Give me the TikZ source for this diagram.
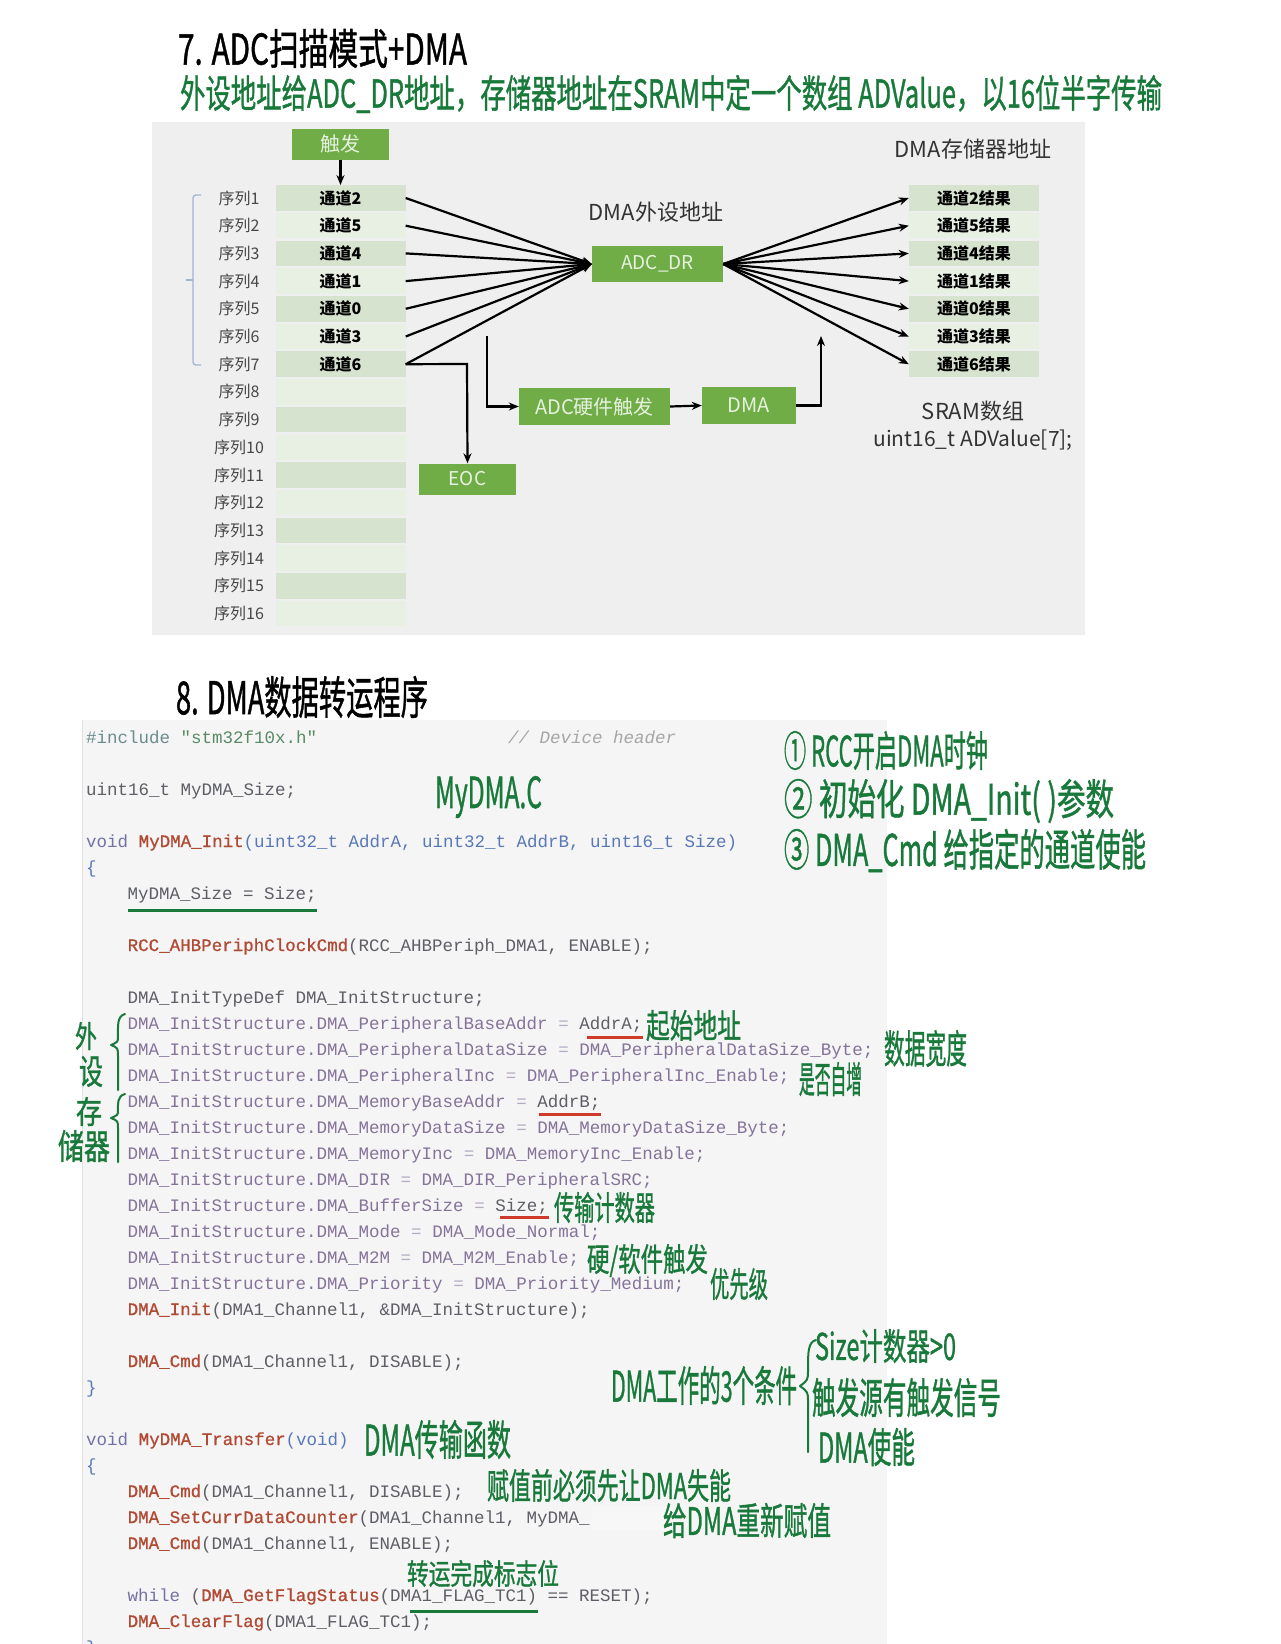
\documentclass[tikz,border=0pt]{standalone}
\usepackage{fontspec}
\usepackage{graphicx}
\setmainfont{Noto Sans CJK SC}
\newfontfamily\cjk{Noto Sans CJK SC}
\newfontfamily\hand[FakeBold=1.2]{Noto Sans CJK SC}
\newfontfamily\codefont{Liberation Mono}
\newfontfamily\codefontb[FakeBold=0.9]{Liberation Mono}
\usetikzlibrary{arrows.meta}
\definecolor{bggray}{HTML}{EFEFEF}
\definecolor{gbox}{HTML}{70AD47}
\definecolor{gtext}{HTML}{E6F2DF}
\definecolor{rowdark}{HTML}{D6E3CF}
\definecolor{rowlight}{HTML}{E8F0E4}
\definecolor{hgreen}{HTML}{18793A}
\definecolor{bracecol}{HTML}{A3B4CF}
\definecolor{codebg}{HTML}{F5F5F5}
\definecolor{cfn}{HTML}{B04A34}
\definecolor{cplain}{HTML}{5E5E66}
\definecolor{cmem}{HTML}{85739A}
\definecolor{ckw}{HTML}{7272A8}
\definecolor{cpar}{HTML}{5878B8}
\definecolor{cstr}{HTML}{5A8A64}
\definecolor{cinc}{HTML}{6B8C8C}
\definecolor{ccom}{HTML}{A6A6A6}
\definecolor{redline}{HTML}{D03A2A}
\definecolor{dtext}{HTML}{333333}
\newcommand{\hw}[3]{\resizebox*{#1pt}{#2pt}{#3}}
\newcommand{\fn}[1]{\textcolor{cfn}{\codefontb #1}}
\begin{document}
\begin{tikzpicture}[x=1pt,y=-1pt,
  gboxst/.style={fill=gbox, draw=none, text=gtext, inner sep=0, font=\cjk\fontsize{20}{20}\selectfont},
  rowbox/.style={draw=none, minimum width=130pt, minimum height=25.5pt, inner sep=0, text=black, font=\cjk\bfseries\fontsize{16}{16}\selectfont},
  seqlab/.style={inner sep=0, text=dtext!90, font=\cjk\fontsize{16}{16}\selectfont},
  dlab/.style={inner sep=0, text=dtext, font=\cjk\fontsize{22}{22}\selectfont},
  conn/.style={line width=2.2pt, black},
  tipst/.style={-{Stealth[length=10pt,width=8pt]}},
  code/.style={anchor=base west, inner sep=0, text=cplain, font=\codefont\fontsize{17.5}{20}\selectfont},
  hwn/.style={anchor=north west, inner sep=0, outer sep=0, font=\hand, text=hgreen},
  hbrace/.style={draw=hgreen, line width=2pt, line cap=round, line join=round},
  ulst/.style={line width=3pt},
]
\useasboundingbox (0,0) rectangle (1280,1644);
\fill[white] (0,0) rectangle (1280,1644);

% ---------- titles ----------
\node[hwn, text=black] (t7) at (178,29) {\hw{289}{39}{7. ADC扫描模式+DMA}};
\node[hwn] (t7b) at (180,75) {\hw{982}{38}{外设地址给ADC\_DR地址，存储器地址在SRAM中定一个数组 ADValue，以16位半字传输}};

% ---------- diagram ----------
\fill[bggray] (152,122) rectangle (1085,635);

\node[gboxst, minimum width=97pt, minimum height=31pt] (trig) at (340.5,144) {触发};

\foreach \i/\c in {1/2,2/5,3/4,4/1,5/0,6/3,7/6}{
  \pgfmathsetmacro\yy{198+(\i-1)*27.7}
  \pgfmathtruncatemacro\odd{mod(\i,2)}
  \ifnum\odd=1 \def\rc{rowdark}\else\def\rc{rowlight}\fi
  \node[rowbox, fill=\rc] (r\i) at (340.5,\yy) {通道\c};
  \node[seqlab] (s\i) at (239,\yy) {序列\i};
  \node[rowbox, fill=\rc] (q\i) at (974,\yy) {通道\c 结果};
}
\foreach \i in {8,...,16}{
  \pgfmathsetmacro\yy{198+(\i-1)*27.7}
  \pgfmathtruncatemacro\odd{mod(\i,2)}
  \ifnum\odd=1 \def\rc{rowdark}\else\def\rc{rowlight}\fi
  \node[rowbox, fill=\rc] (r\i) at (340.5,\yy) {};
  \node[seqlab] (s\i) at (239,\yy) {序列\i};
}

% left brace
\draw[bracecol, line width=1.3pt, rounded corners=3pt] (201,195) -- (193,195) -- (193,365) -- (201,365);
\draw[bracecol, line width=1.3pt] (193,280) -- (186,280);

\node[gboxst, minimum width=131pt, minimum height=36pt, font=\cjk\fontsize{19}{19}\selectfont] (adc) at (657.5,264) {ADC\_DR};
\node[dlab] (perlab) at (656,212) {DMA外设地址};
\node[dlab] (memlab) at (973,149) {DMA存储器地址};
\node[dlab] (sram) at (973,411) {SRAM数组};
\node[dlab, font=\cjk\fontsize{21}{21}\selectfont] (adv) at (973,440) {uint16\_t ADValue[7];};

\node[gboxst, minimum width=151pt, minimum height=37pt] (hw) at (594.5,406.5) {ADC硬件触发};
\node[gboxst, minimum width=94pt, minimum height=37pt] (dma) at (749,405.5) {DMA};
\node[gboxst, minimum width=97pt, minimum height=31pt, font=\cjk\fontsize{19}{19}\selectfont] (eoc) at (467.5,479) {EOC};

\draw[conn, tipst] (trig.south) -- (r1.north);
\foreach \i in {1,...,7}{
  \draw[conn, tipst] (r\i.east) -- (adc.west);
  \draw[conn, tipst] (adc.east) -- (q\i.west);
}
\coordinate (eocturn) at (467,364);
\draw[conn, tipst] (r7.east) -- (eocturn) -- (eoc.north);
\coordinate (freeA) at (487,336);
\coordinate (turnA) at (487,406.5);
\draw[conn, tipst] (freeA) -- (turnA) -- (hw.west);
\draw[conn, tipst] (hw.east) -- (dma.west);
\coordinate (turnB) at (821,405.5);
\coordinate (freeB) at (821,336);
\draw[conn, tipst] (dma.east) -- (turnB) -- (freeB);

% ---------- section 8 ----------
\node[hwn, text=black] (t8) at (176,676) {\hw{252}{42}{8. DMA数据转运程序}};

\fill[codebg] (82,720) rectangle (887,1644);
\draw[black!12, line width=1pt] (82.5,720) -- (82.5,1644);

\node[code] (c0) at (86,743) {\textcolor{cinc}{\#include} \textcolor{cstr}{"stm32f10x.h"}};
\node[code, text=ccom] (c0b) at (508,743) {\itshape // Device header};
\node[code] (c2) at (86,795) {uint16\_t MyDMA\_Size;};
\node[code] (c4) at (86,847) {\textcolor{ckw}{void} \fn{MyDMA\_Init}\textcolor{cpar}{(uint32\_t AddrA, uint32\_t AddrB, uint16\_t Size)}};
\node[code, text=cpar] (c5) at (86,873) {\{};
\node[code] (c6) at (127.5,899) {MyDMA\_Size = Size;};
\node[code] (c8) at (127.5,951) {\fn{RCC\_AHBPeriphClockCmd}(RCC\_AHBPeriph\_DMA1, ENABLE);};
\node[code] (c10) at (127.5,1003) {DMA\_InitTypeDef DMA\_InitStructure;};
\node[code, text=cmem] (c11) at (127.5,1029) {DMA\_InitStructure.DMA\_PeripheralBaseAddr \textcolor{cmem!60}{=} \textcolor{cplain}{AddrA;}};
\node[code, text=cmem] (c12) at (127.5,1055) {DMA\_InitStructure.DMA\_PeripheralDataSize \textcolor{cmem!60}{=} DMA\_PeripheralDataSize\_Byte;};
\node[code, text=cmem] (c13) at (127.5,1081) {DMA\_InitStructure.DMA\_PeripheralInc \textcolor{cmem!60}{=} DMA\_PeripheralInc\_Enable;};
\node[code, text=cmem] (c14) at (127.5,1107) {DMA\_InitStructure.DMA\_MemoryBaseAddr \textcolor{cmem!60}{=} \textcolor{cplain}{AddrB;}};
\node[code, text=cmem] (c15) at (127.5,1133) {DMA\_InitStructure.DMA\_MemoryDataSize \textcolor{cmem!60}{=} DMA\_MemoryDataSize\_Byte;};
\node[code, text=cmem] (c16) at (127.5,1159) {DMA\_InitStructure.DMA\_MemoryInc \textcolor{cmem!60}{=} DMA\_MemoryInc\_Enable;};
\node[code, text=cmem] (c17) at (127.5,1185) {DMA\_InitStructure.DMA\_DIR \textcolor{cmem!60}{=} DMA\_DIR\_PeripheralSRC;};
\node[code, text=cmem] (c18) at (127.5,1211) {DMA\_InitStructure.DMA\_BufferSize \textcolor{cmem!60}{=} \textcolor{cplain}{Size;}};
\node[code, text=cmem] (c19) at (127.5,1237) {DMA\_InitStructure.DMA\_Mode \textcolor{cmem!60}{=} DMA\_Mode\_Normal;};
\node[code, text=cmem] (c20) at (127.5,1263) {DMA\_InitStructure.DMA\_M2M \textcolor{cmem!60}{=} DMA\_M2M\_Enable;};
\node[code, text=cmem] (c21) at (127.5,1289) {DMA\_InitStructure.DMA\_Priority \textcolor{cmem!60}{=} DMA\_Priority\_Medium;};
\node[code] (c22) at (127.5,1315) {\fn{DMA\_Init}(DMA1\_Channel1, \&DMA\_InitStructure);};
\node[code] (c24) at (127.5,1367) {\fn{DMA\_Cmd}(DMA1\_Channel1, DISABLE);};
\node[code, text=cpar] (c25) at (86,1393) {\}};
\node[code] (c27) at (86,1445) {\textcolor{ckw}{void} \fn{MyDMA\_Transfer}\textcolor{cpar}{(void)}};
\node[code, text=cpar] (c28) at (86,1471) {\{};
\node[code] (c29) at (127.5,1497) {\fn{DMA\_Cmd}(DMA1\_Channel1, DISABLE);};
\node[code] (c30) at (127.5,1523) {\fn{DMA\_SetCurrDataCounter}(DMA1\_Channel1, MyDMA\_};
\fill[white!97!black] (592,1507) rectangle (671,1531);
\node[code] (c31) at (127.5,1549) {\fn{DMA\_Cmd}(DMA1\_Channel1, ENABLE);};
\node[code] (c33) at (127.5,1601) {\textcolor{ckw}{while} (\fn{DMA\_GetFlagStatus}(DMA1\_FLAG\_TC1) == RESET);};
\node[code] (c34) at (127.5,1627) {\fn{DMA\_ClearFlag}(DMA1\_FLAG\_TC1);};
\begin{scope}
\clip (0,0) rectangle (1280,1644);
\node[code, text=cpar] (c35) at (86,1653) {\}};
\end{scope}

% underlines
\draw[ulst, hgreen] (128,910) -- (317,910);
\draw[ulst, redline] (587,1037) -- (643,1037);
\draw[ulst, redline] (539,1114) -- (601,1114);
\draw[ulst, redline] (500,1217) -- (549,1217);
\draw[ulst, hgreen] (410,1611) -- (538,1611);

% handwritten notes
\node[hwn] (myc) at (435,776) {\hw{107}{42}{MyDMA.C}};
\node[hwn] (n1) at (784,731) {\hw{204}{39}{① RCC开启DMA时钟}};
\node[hwn] (n2) at (784,779) {\hw{330}{44}{② 初始化 DMA\_Init( )参数}};
\node[hwn] (n3) at (784,829) {\hw{362}{43}{③ DMA\_Cmd 给指定的通道使能}};
\node[hwn] (a1) at (646,1010) {\hw{95}{31}{起始地址}};
\node[hwn] (a2) at (884,1030) {\hw{83}{37}{数据宽度}};
\node[hwn] (a3) at (799,1062) {\hw{63}{34}{是否自增}};
\node[hwn] (w1) at (75,1022) {\hw{22}{28}{外}};
\node[hwn] (w2) at (79,1056) {\hw{24}{31}{设}};
\node[hwn] (m1) at (76,1097) {\hw{26}{29}{存}};
\node[hwn] (m2) at (58,1130) {\hw{52}{32}{储器}};
\draw[hbrace] (125,1014) .. controls (117,1016) and (118,1026) .. (118,1036) .. controls (118,1042) .. (111,1045) .. controls (118,1048) .. (118,1056) -- (118,1090);
\draw[hbrace] (125,1094) .. controls (117,1096) and (118,1104) .. (118,1110) .. controls (118,1115) .. (111,1118) .. controls (118,1121) .. (118,1128) -- (118,1162);
\node[hwn] (a4) at (554,1192) {\hw{101}{31}{传输计数器}};
\node[hwn] (a5) at (587,1244) {\hw{121}{33}{硬/软件触发}};
\node[hwn] (a6) at (710,1268) {\hw{58}{32}{优先级}};
\node[hwn] (k0) at (611,1366) {\hw{186}{39}{DMA工作的3个条件}};
\draw[hbrace] (816,1340) .. controls (808,1342) and (808,1352) .. (808,1370) .. controls (808,1380) .. (800,1386) .. controls (808,1392) .. (808,1402) -- (808,1452);
\node[hwn] (k1) at (815,1329) {\hw{141}{34}{Size计数器>0}};
\node[hwn] (k2) at (812,1378) {\hw{189}{39}{触发源有触发信号}};
\node[hwn] (k3) at (818,1428) {\hw{97}{38}{DMA使能}};
\node[hwn] (b1) at (364,1420) {\hw{147}{39}{DMA传输函数}};
\node[hwn] (b2) at (487,1469) {\hw{244}{33}{赋值前必须先让DMA失能}};
\node[hwn] (b3) at (663,1503) {\hw{168}{35}{给DMA重新赋值}};
\node[hwn] (b4) at (407,1560) {\hw{152}{27}{转运完成标志位}};
\end{tikzpicture}
\end{document}
